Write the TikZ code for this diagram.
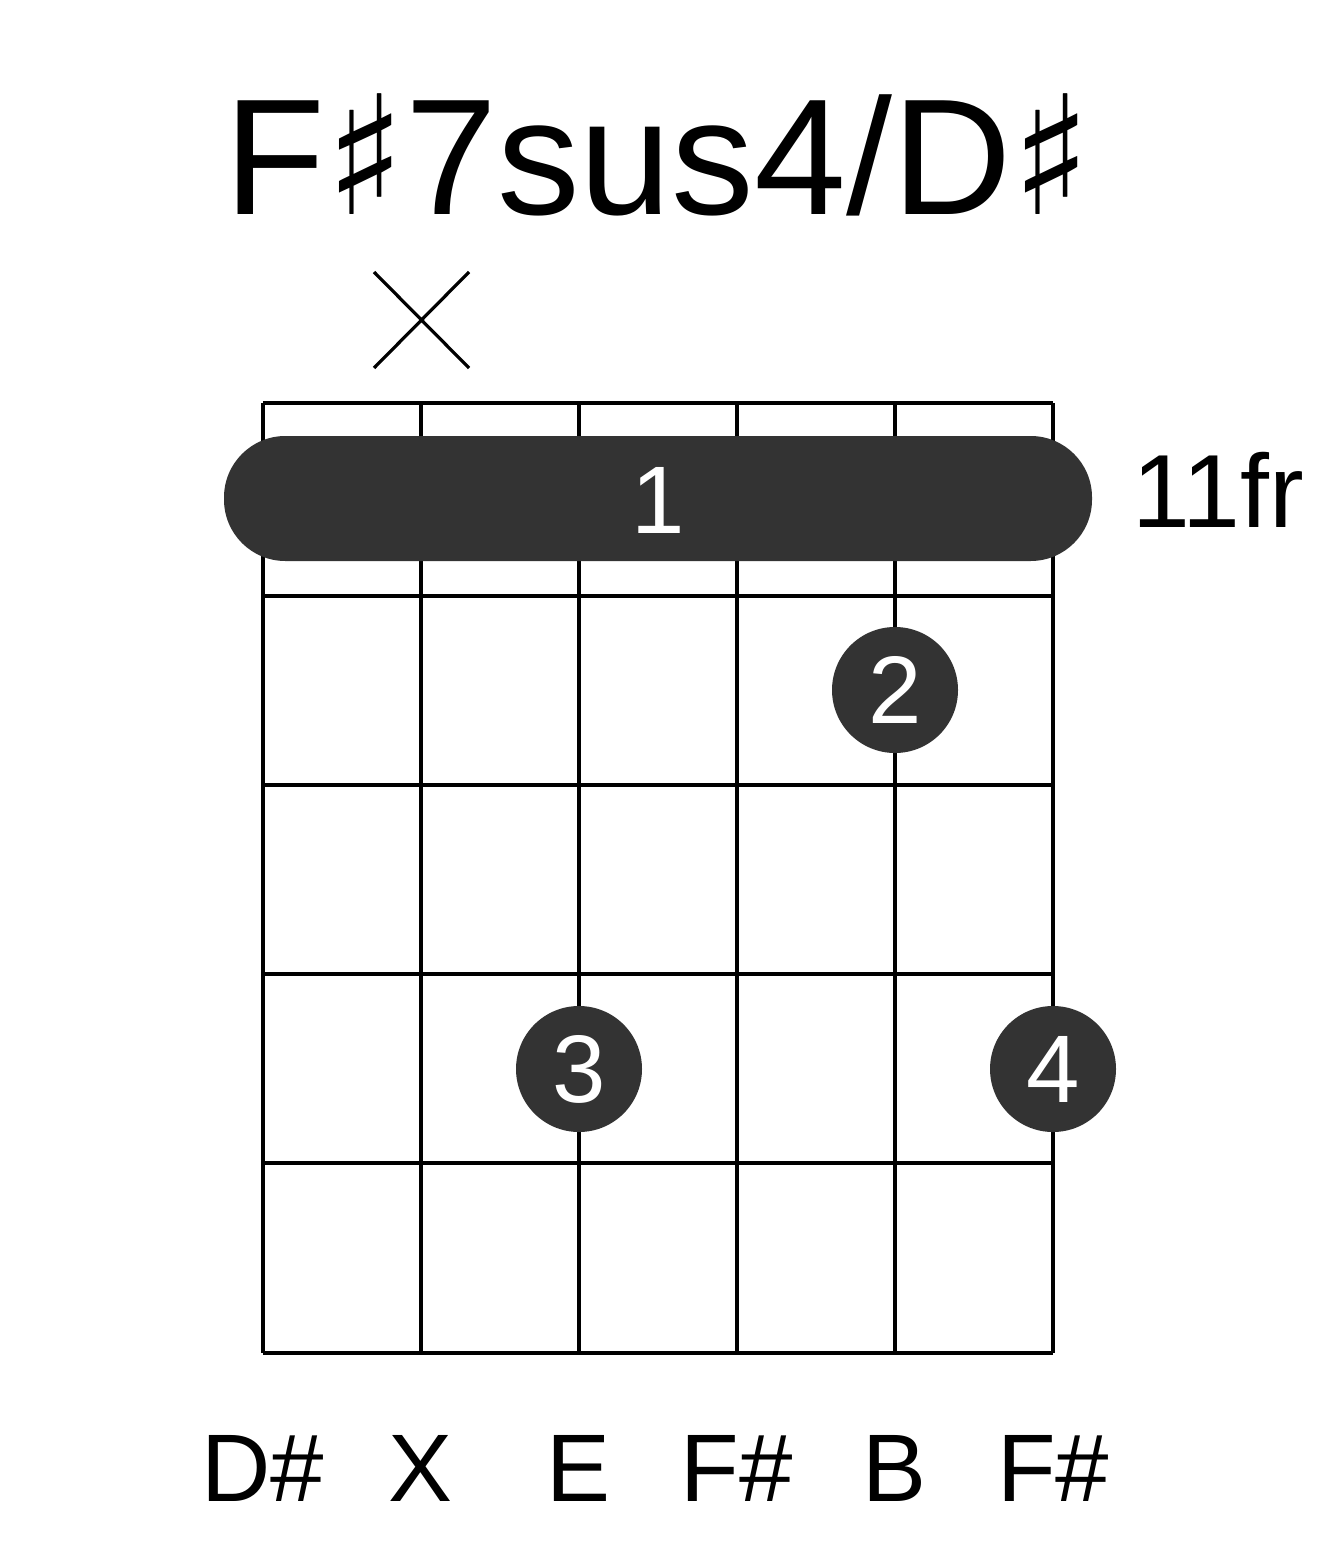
\documentclass[tikz,border=0pt]{standalone}
\usepackage{fontspec}
\setmainfont{Liberation Sans}
\newfontfamily\djfont{DejaVu Sans}
\definecolor{dotc}{HTML}{333333}
\begin{document}
\begin{tikzpicture}[x=0.75pt,y=-0.75pt,
  gridline/.style={line width=2.4pt,black},
  fing/.style={circle,fill=dotc,minimum size=94.5pt,inner sep=0pt,text=white,font=\fontsize{72}{72}\selectfont},
  lbl/.style={font=\fontsize{72}{72}\selectfont}]
\fill[white] (0,0) rectangle (1317,1551);
\useasboundingbox (0,0) rectangle (1317,1551);
\foreach \x in {263,421,579,737,895,1053} \draw[gridline] (\x,403) -- (\x,1353);
\foreach \y in {403,596,785,974,1163,1353} \draw[gridline] (263,\y) -- (1053,\y);
\fill[dotc,rounded corners=46pt] (224,436) rectangle (1092,561);
\node[text=white,font=\fontsize{72}{72}\selectfont] (b1) at (658,500) {1};
\node[fing] (f2) at (895,690) {2};
\node[fing] (f3) at (579,1069) {3};
\node[fing] (f4) at (1053,1069) {4};
\draw[line width=2.4pt] (374,272) -- (469,368) (469,272) -- (374,368);
\node[lbl,font=\fontsize{78}{78}\selectfont] (fr) at (1218,490) {11fr};
\node[font=\fontsize{124}{124}\selectfont] (t) at (658,155) {F{\djfont ♯}7sus4/D{\djfont ♯}};
\foreach \x/\t in {263/D\#,421/X,579/E,737/F\#,895/B,1053/F\#}
  \node[lbl] at (\x,1468) {\t};
\end{tikzpicture}
\end{document}
